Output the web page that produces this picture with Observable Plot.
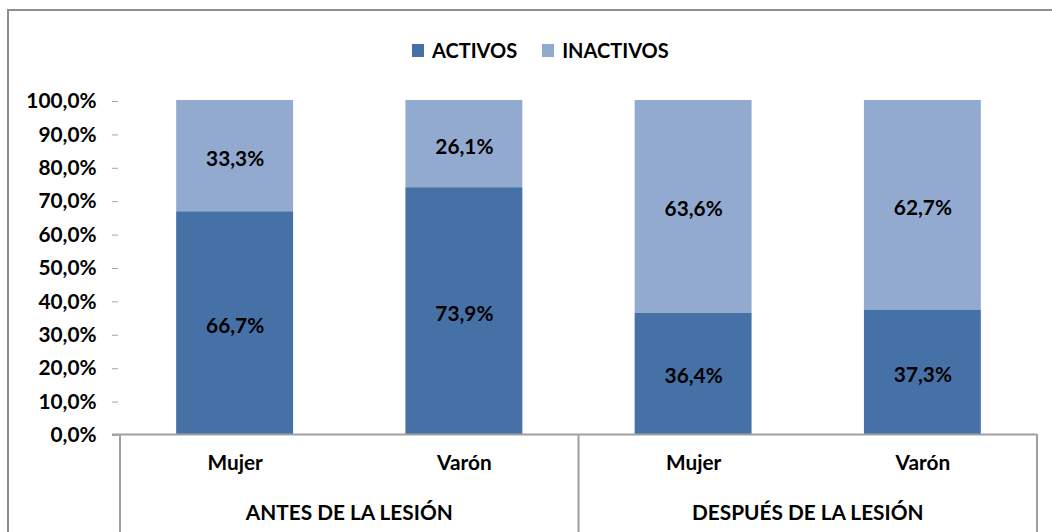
<!DOCTYPE html>
<html>
<head>
<meta charset="utf-8">
<script src="https://cdn.jsdelivr.net/npm/d3@7"></script>
<script src="https://cdn.jsdelivr.net/npm/@observablehq/plot@0.6"></script>
<style>
  html, body { margin: 0; padding: 0; background: #fff; overflow: hidden; }
  #wrap { position: relative; width: 1052px; height: 532px; font-family: Lato, "Open Sans", sans-serif; font-weight: bold; }
  #border { position: absolute; left: 7px; top: 9px; width: 1100px; height: 600px; border: 2px solid #8e8e8e; box-sizing: border-box; }
  #legend { position: absolute; top: 38px; left: 412px; display: flex; align-items: center; font-size: 20px; color: #000; white-space: nowrap; }
  #legend .sw { width: 12px; height: 13px; display: inline-block; margin-right: 8px; }
  #legend .item { display: flex; align-items: center; margin-right: 25px; }
  #chart { position: absolute; left: 0; top: 0; }
</style>
</head>
<body>
<div id="wrap">
  <div id="border"></div>
  <div id="chart"></div>
  <div id="legend"></div>
</div>
<script>
// ---- data ----
const groups = ["ANTES DE LA LESIÓN", "ANTES DE LA LESIÓN", "DESPUÉS DE LA LESIÓN", "DESPUÉS DE LA LESIÓN"];
const sexes = ["Mujer", "Varón", "Mujer", "Varón"];
const series = ["ACTIVOS", "INACTIVOS"];
const activos = [66.7, 73.9, 36.4, 37.3];
const inactivos = [33.3, 26.1, 63.6, 62.7];
const yTicks = [0, 10, 20, 30, 40, 50, 60, 70, 80, 90, 100];
const colors = ["#4571a6", "#93aad0"];

// ---- build table ----
const keys = sexes.map((s, i) => groups[i] + "|" + s);
const rows = [];
keys.forEach((k, i) => {
  rows.push({key: k, serie: series[0], value: activos[i]});
  rows.push({key: k, serie: series[1], value: inactivos[i]});
});
const cats = keys.map((k, i) => ({key: k, sex: sexes[i], group: groups[i]}));
const fmt = v => v.toFixed(1).replace(".", ",") + "%";

const W = 1052, H = 532;
const FS = 20.8;

const plot = Plot.plot({
  width: W,
  height: H,
  marginTop: 100,
  marginBottom: 98,
  marginLeft: 120,
  marginRight: 15,
  style: {fontFamily: "Lato, 'Open Sans', sans-serif", fontWeight: "bold", background: "transparent", overflow: "visible"},
  x: {domain: keys, paddingInner: 0.49, paddingOuter: 0.245, round: false, axis: null, label: null},
  y: {domain: [0, 100], axis: null, label: null},
  color: {domain: series, range: colors},
  marks: [
    Plot.barY(rows, {x: "key", y: "value", fill: "serie"}),
    Plot.text(rows, Plot.stackY({x: "key", y: "value", text: d => fmt(d.value), fill: "#000", fontSize: FS, fontWeight: "bold", dy: 3})),
    Plot.axisY({ticks: yTicks, tickFormat: fmt, tickSize: 6, tickPadding: 16, stroke: "#a6a6a6", fill: "#000", fontSize: FS, fontWeight: "bold", dx: -2, dy: 1, label: null}),
    Plot.ruleY([0], {stroke: "#a0a0a0", strokeWidth: 2, insetLeft: -8}),
    Plot.text(cats, {x: "key", text: "sex", frameAnchor: "bottom", dy: 35, fill: "#000", fontSize: FS, fontWeight: "bold"})
  ]
});
document.getElementById("chart").appendChild(plot);

// ---- multi-level category axis (separators + group labels) from the x scale ----
const xs = plot.scale("x");
const xb = d3.scaleBand(xs.domain, xs.range)
  .paddingInner(xs.paddingInner ?? 0.49)
  .paddingOuter(xs.paddingOuter ?? 0.245)
  .align(xs.align ?? 0.5);
const ys = plot.scale("y");
const y0 = d3.scaleLinear(ys.domain, ys.range)(0);
const svg = d3.select(plot);
const groupNames = Array.from(new Set(groups));
const bounds = [xs.range[0]];
groupNames.forEach((g) => {
  const ks = keys.filter((k, i) => groups[i] === g);
  const last = ks[ks.length - 1];
  const idx = keys.indexOf(last);
  if (idx < keys.length - 1) {
    const nxt = keys[idx + 1];
    bounds.push((xb(last) + xb.bandwidth() + xb(nxt)) / 2);
  }
});
bounds.push(xs.range[1]);
svg.append("g").selectAll("line").data(bounds).join("line")
  .attr("x1", d => d).attr("x2", d => d)
  .attr("y1", y0).attr("y2", H + 5)
  .attr("stroke", "#a0a0a0").attr("stroke-width", 2);
svg.append("g").selectAll("text").data(groupNames).join("text")
  .attr("x", g => {
    const ks = keys.filter((k, i) => groups[i] === g);
    return (xb(ks[0]) + xb(ks[ks.length - 1]) + xb.bandwidth()) / 2;
  })
  .attr("y", y0 + 81)
  .attr("text-anchor", "middle")
  .attr("dominant-baseline", "middle")
  .attr("font-size", FS)
  .attr("font-weight", "bold")
  .attr("fill", "#000")
  .text(g => g);

// ---- legend ----
const leg = d3.select("#legend");
series.forEach((s, i) => {
  const it = leg.append("div").attr("class", "item");
  it.append("span").attr("class", "sw").style("background", colors[i]);
  it.append("span").text(s);
});
</script>
</body>
</html>
